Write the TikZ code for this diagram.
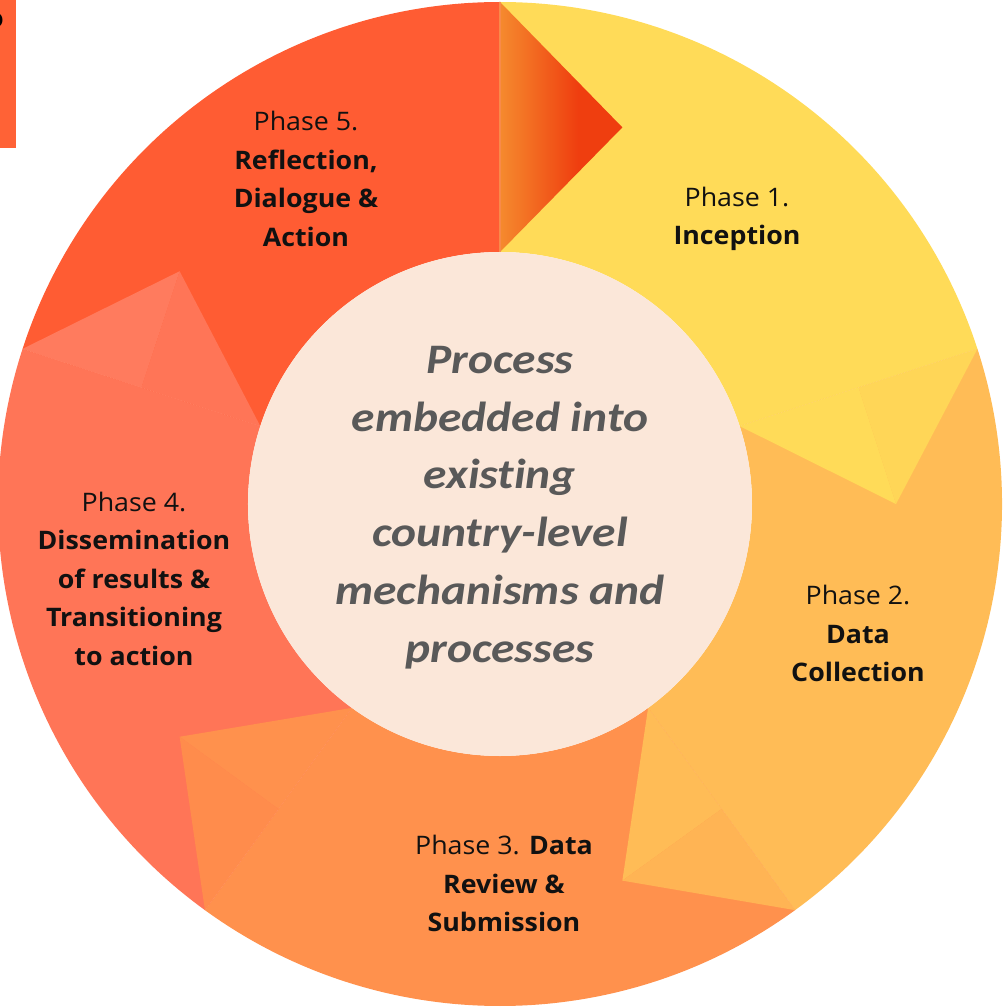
\documentclass[tikz,border=0pt]{standalone}
\usepackage{fontspec}
\newfontfamily\labelfont[FakeStretch=1.05]{Open Sans}
\newfontfamily\centerfont[FakeStretch=1.13,Ligatures=NoCommon,RawFeature={-calt;-clig}]{Carlito}
\definecolor{pone}{HTML}{FFDB58}
\definecolor{ponefold}{HTML}{FFD657}
\definecolor{ptwo}{HTML}{FFBC56}
\definecolor{ptwofold}{HTML}{FFB454}
\definecolor{pthree}{HTML}{FF914D}
\definecolor{pthreefold}{HTML}{FF8C4C}
\definecolor{pfour}{HTML}{FF7557}
\definecolor{pfourfold}{HTML}{FF7B5E}
\definecolor{pfive}{HTML}{FF5C33}
\definecolor{fragcol}{HTML}{FF6236}
\definecolor{innerc}{HTML}{FBE7D9}
\definecolor{hubink}{HTML}{595959}
\definecolor{labelink}{HTML}{111111}
\definecolor{chevA}{HTML}{F58A2E}
\definecolor{chevB}{HTML}{EF3E0F}
\definecolor{chevline}{HTML}{F88A4A}
\pgfdeclarehorizontalshading{chevshade}{100bp}{color(0bp)=(chevA); color(25bp)=(chevA); color(57bp)=(chevB); color(100bp)=(chevB)}
\begin{document}
\begin{tikzpicture}[x=1pt,y=1pt,
  lbl/.style={font=\labelfont\fontsize{25.5}{38.5}\selectfont, align=center, inner sep=0pt, text=labelink},
  hubtxt/.style={font=\centerfont\bfseries\itshape\fontsize{42}{57.8}\selectfont, align=center, inner sep=0pt, text=hubink}]
\useasboundingbox (-500,-503) rectangle (503,504);
\def\Ri{252}\def\Ro{502}\def\Rt{396}\def\Rm{377}
% top-left fragment
\fill[fragcol] (-500,504) rectangle (-484,356);
\begin{scope}
\clip (-500,504) rectangle (-484,356);
\node[anchor=east, inner sep=0pt, text=black, font=\labelfont\bfseries\fontsize{26}{30}\selectfont] (frag) at (-496,483.5) {o};
\end{scope}
% sectors
\fill[pone] (90:\Ri) -- (90:\Ro) arc[start angle=90, end angle=18, radius=\Ro] -- (18:\Ri) arc[start angle=18, end angle=90, radius=\Ri] -- cycle;
\fill[ptwo] (18:\Ri) -- (18:\Ro) arc[start angle=18, end angle=-54, radius=\Ro] -- (-54:\Ri) arc[start angle=-54, end angle=18, radius=\Ri] -- cycle;
\fill[pthree] (-54:\Ri) -- (-54:\Ro) arc[start angle=-54, end angle=-126, radius=\Ro] -- (-126:\Ri) arc[start angle=-126, end angle=-54, radius=\Ri] -- cycle;
\fill[pfour] (-126:\Ri) -- (-126:\Ro) arc[start angle=-126, end angle=-198, radius=\Ro] -- (162:\Ri) arc[start angle=-198, end angle=-126, radius=\Ri] -- cycle;
\fill[pfive] (162:\Ri) -- (162:\Ro) arc[start angle=162, end angle=90, radius=\Ro] -- (90:\Ri) arc[start angle=90, end angle=162, radius=\Ri] -- cycle;
% arrow tips (folded)
\fill[pone] (18:\Ri) -- (18:\Rm) -- (0:\Rt) -- cycle;
\fill[ponefold] (18:\Ro) -- (18:\Rm) -- (0:\Rt) -- cycle;
\fill[ptwo] (-54:\Ri) -- (-54:\Rm) -- (-72:\Rt) -- cycle;
\fill[ptwofold] (-54:\Ro) -- (-54:\Rm) -- (-72:\Rt) -- cycle;
\fill[pthree] (-126:\Ri) -- (-126:\Rm) -- (-144:\Rt) -- cycle;
\fill[pthreefold] (-126:\Ro) -- (-126:\Rm) -- (-144:\Rt) -- cycle;
\fill[pfour] (162:\Ri) -- (162:\Rm) -- (144:\Rt) -- cycle;
\fill[pfourfold] (162:\Ro) -- (162:\Rm) -- (144:\Rt) -- cycle;
\shade[shading=chevshade] (90:\Ri) -- (90:\Ro) -- (72:\Rt) -- cycle;
\draw[chevline, line width=1.2pt] (90:\Ri) -- (90:\Ro);
% hub
\node[circle, fill=innerc, minimum size=504pt, inner sep=0pt] (hub) at (0,0) {};
\node[hubtxt] (hubtext) at (0,-2.3) {\strut Process\\\strut embedded into\\\strut exist\kern0pt ing\\\strut country-level\\\strut mechanisms and\\\strut processes};
% labels
\node[lbl] (phone) at (237,286.1) {\strut Phase 1.\\\strut\textbf{Inception}};
\node[lbl] (phtwo) at (358,-131.4) {\strut Phase 2.\\\strut\textbf{Data}\\\strut\textbf{Collection}};
\node[lbl] (phthree) at (4,-381.4) {\strut Phase 3. \textbf{Data}\\\strut\textbf{Review \&}\\\strut\textbf{Submission}};
\node[lbl] (phfour) at (-366,-76.4) {\strut Phase 4.\\\strut\textbf{Dissemination}\\\strut\textbf{of results \&}\\\strut\textbf{Transitioning}\\\strut\textbf{to action}};
\node[lbl] (phfive) at (-194,323.1) {\strut Phase 5.\\\strut\textbf{Reflection,}\\\strut\textbf{Dialogue \&}\\\strut\textbf{Action}};
\end{tikzpicture}
\end{document}
